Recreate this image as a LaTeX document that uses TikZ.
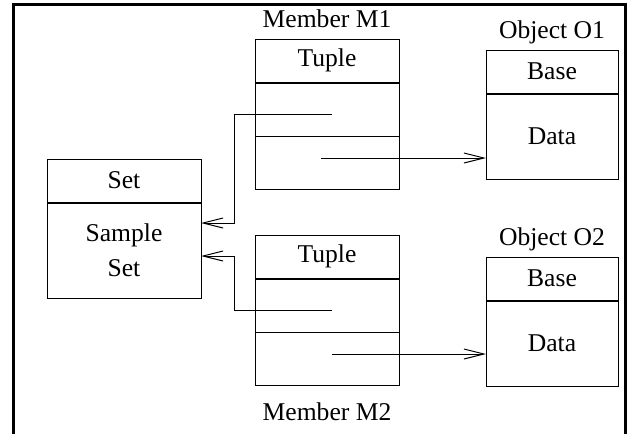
\documentclass[tikz,border=0pt]{standalone}
\usepackage{fontspec}
\setmainfont{Liberation Serif}
\usetikzlibrary{arrows.meta, positioning}

\begin{document}
\begin{tikzpicture}[
		x=0.5pt, y=-0.5pt,
		node distance=0pt,
		every node/.style={font=\fontsize{12.8}{17.5}\selectfont},
		part/.style={draw, line width=0.5pt, inner sep=0pt, outer sep=0pt, align=center},
		headpart/.style={part, outer sep=0.5pt, minimum height=21.5pt},
		setpart/.style={part, minimum width=77pt},
		memberpart/.style={part, minimum width=72pt, minimum height=26.5pt},
		objectpart/.style={part, minimum width=66pt},
		caption/.style={inner sep=0pt, text depth=0pt},
		ptr/.style={-{Straight Barb[length=10pt, width=5pt]}, line width=0.5pt}
	]
	\useasboundingbox (0,0) rectangle (631,434);
	% frame
	\draw[line width=1.5pt] (13,434) -- (13,4) -- (625,4) -- (625,434);

	% the set
	\node[setpart, headpart, anchor=north west] (sethead) at (46,158) {Set};
	\node[setpart, minimum height=47.5pt, below=of sethead] (setbody) {Sample\\Set};

	% member M1
	\node[memberpart, headpart, anchor=north west] (m1tuple) at (254,38) {Tuple};
	\node[memberpart, below=of m1tuple] (m1a) {};
	\node[memberpart, below=of m1a] (m1b) {};
	\node[caption, above=5pt of m1tuple] (m1name) {Member M1};

	% member M2
	\node[memberpart, headpart, anchor=north west] (m2tuple) at (254,234) {Tuple};
	\node[memberpart, below=of m2tuple] (m2a) {};
	\node[memberpart, below=of m2a] (m2b) {};
	\node[caption, below=8.5pt of m2b] (m2name) {Member M2};

	% object O1
	\node[objectpart, headpart, anchor=north west] (o1head) at (485,49) {Base};
	\node[objectpart, minimum height=42.5pt, below=of o1head] (o1body) {Data};
	\node[caption, above=5pt of o1head] (o1name) {Object O1};

	% object O2
	\node[objectpart, headpart, anchor=north west] (o2head) at (485,256) {Base};
	\node[objectpart, minimum height=42.5pt, below=of o2head] (o2body) {Data};
	\node[caption, above=5pt of o2head] (o2name) {Object O2};

	% pointers
	\coordinate (m1set) at (332,114);
	\coordinate (m1obj) at (321,158);
	\coordinate (m2set) at (332,310);
	\coordinate (m2obj) at (332,354);

	\draw[ptr] (m1set) -| ([xshift=16.5pt, yshift=13.75pt]setbody.east) -- ([yshift=13.75pt]setbody.east);
	\draw[ptr] (m2set) -| ([xshift=16.5pt, yshift=-2.75pt]setbody.east) -- ([yshift=-2.75pt]setbody.east);
	\draw[ptr] (m1obj) -- (o1body.west |- m1obj);
	\draw[ptr] (m2obj) -- (o2body.west |- m2obj);
\end{tikzpicture}
\end{document}
